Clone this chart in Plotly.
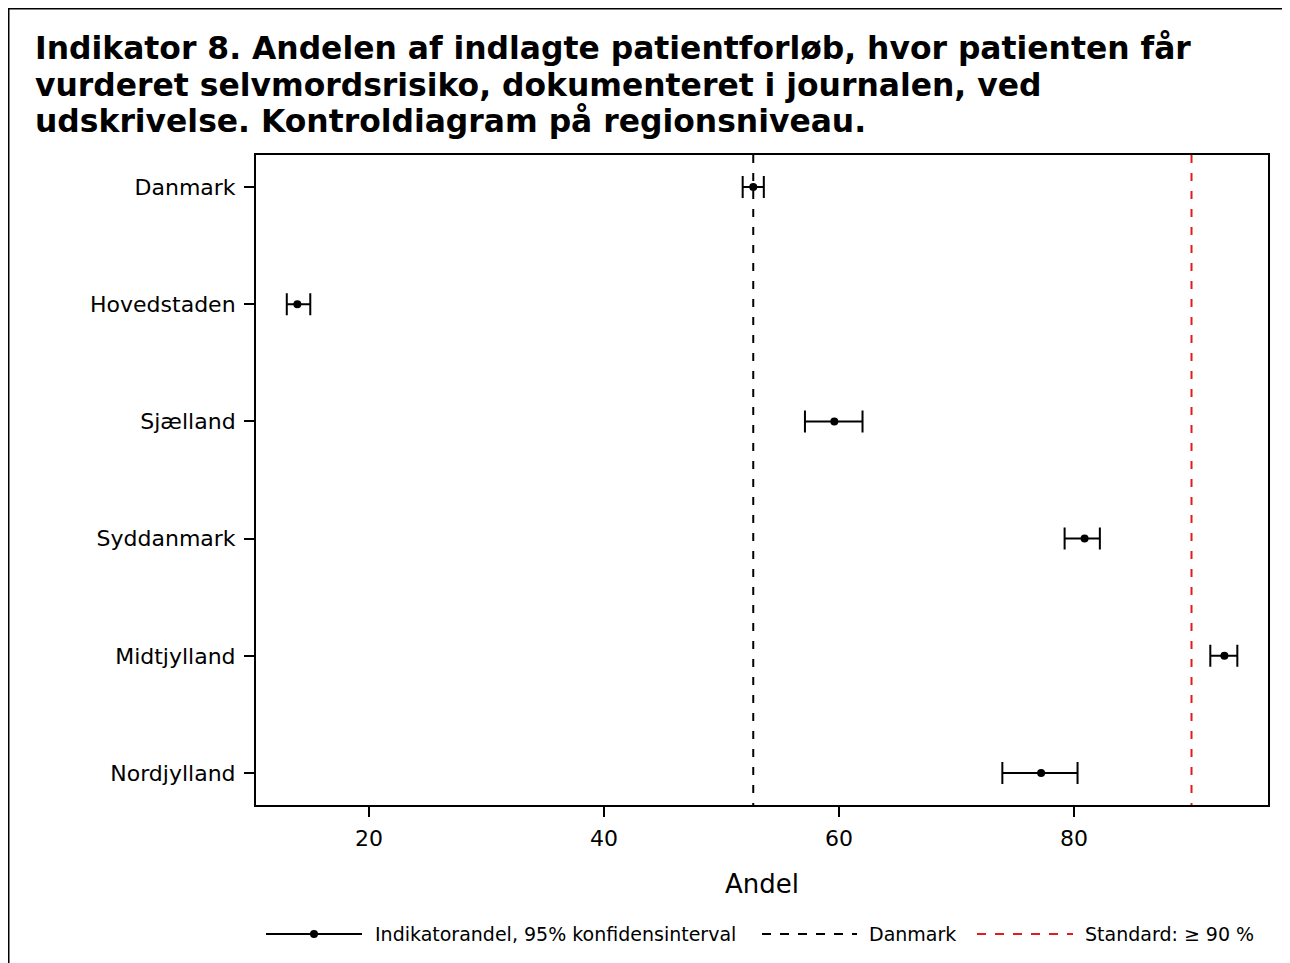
import plotly.graph_objects as go

regions = ["Danmark", "Hovedstaden", "Sjælland", "Syddanmark", "Midtjylland", "Nordjylland"]
andel = [52.7, 13.9, 59.6, 80.9, 92.8, 77.2]
ci_low = [51.8, 13.0, 57.1, 79.2, 91.6, 73.9]
ci_high = [53.6, 15.0, 62.0, 82.2, 93.9, 80.3]
danmark_ref = 52.7
standard = 90
x_ticks = [20, 40, 60, 80]

title_lines = ["Indikator 8. Andelen af indlagte patientforløb, hvor patienten får",
               "vurderet selvmordsrisiko, dokumenteret i journalen, ved",
               "udskrivelse. Kontroldiagram på regionsniveau."]
legend_labels = ["Indikatorandel, 95% konfidensinterval", "Danmark", "Standard: \u2265 90 %"]

W, H = 1282, 955
L, R, T, B = 248, 22, 147, 158
PW, PH = W - L - R, H - T - B
FONT = "DejaVu Sans"
RED = "#e41a1c"


def px_x(p):
    return (p - L) / PW


def px_y(p):
    return (H - B - p) / PH


fig = go.Figure()
fig.add_trace(go.Scatter(
    x=andel, y=regions, mode="markers",
    marker=dict(color="black", size=8),
    error_x=dict(type="data", symmetric=False,
                 array=[h - v for h, v in zip(ci_high, andel)],
                 arrayminus=[v - l for v, l in zip(andel, ci_low)],
                 color="black", thickness=2, width=11),
    showlegend=False, hoverinfo="x+y",
))

shapes = [
    dict(type="line", xref="x", yref="paper", x0=danmark_ref, x1=danmark_ref, y0=1, y1=0,
         line=dict(color="black", width=2, dash="8px,10px"), layer="below"),
    dict(type="line", xref="x", yref="paper", x0=standard, x1=standard, y0=1, y1=0,
         line=dict(color=RED, width=2, dash="8px,10px"), layer="below"),
    # outer frame
    dict(type="line", xref="paper", yref="paper", x0=px_x(0), x1=px_x(W), y0=px_y(0.5), y1=px_y(0.5),
         line=dict(color="black", width=2)),
    dict(type="line", xref="paper", yref="paper", x0=px_x(0.5), x1=px_x(0.5), y0=px_y(0), y1=px_y(H),
         line=dict(color="black", width=2)),
    dict(type="line", xref="paper", yref="paper", x0=px_x(1280.5), x1=px_x(1280.5), y0=px_y(0), y1=px_y(H),
         line=dict(color="#999999", width=1)),
]

# manual legend
ly = px_y(926)
shapes += [
    dict(type="line", xref="paper", yref="paper", x0=px_x(258), x1=px_x(354), y0=ly, y1=ly,
         line=dict(color="black", width=2)),
    dict(type="circle", xref="paper", yref="paper", x0=px_x(302), x1=px_x(310),
         y0=ly - 4 / PH, y1=ly + 4 / PH, fillcolor="black", line=dict(color="black", width=0)),
    dict(type="line", xref="paper", yref="paper", x0=px_x(754), x1=px_x(849), y0=ly, y1=ly,
         line=dict(color="black", width=2, dash="9px,9px")),
    dict(type="line", xref="paper", yref="paper", x0=px_x(969), x1=px_x(1065), y0=ly, y1=ly,
         line=dict(color=RED, width=2, dash="9px,9px")),
]
annotations = []
for xpx, txt in zip([365, 859, 1075], legend_labels):
    annotations.append(dict(xref="paper", yref="paper", x=px_x(xpx), y=ly, text=txt,
                            showarrow=False, xanchor="left", yanchor="middle",
                            font=dict(family=FONT, size=19, color="black")))
for ypx, txt in zip([40, 76.5, 113], title_lines):
    annotations.append(dict(xref="paper", yref="paper", x=px_x(25), y=px_y(ypx), text="<b>" + txt + "</b>",
                            showarrow=False, xanchor="left", yanchor="middle",
                            font=dict(family=FONT, size=31.4, color="black")))

fig.update_layout(
    width=W, height=H,
    margin=dict(l=L, r=R, t=T, b=B, pad=0),
    paper_bgcolor="white", plot_bgcolor="white",
    font=dict(family=FONT, color="black"),
    shapes=shapes, annotations=annotations,
    showlegend=False,
)
fig.update_xaxes(range=[10.38, 96.51], tickvals=x_ticks, ticks="outside", ticklen=10, tickwidth=2,
                 tickcolor="black", showline=True, linecolor="black", linewidth=2, mirror=True,
                 showgrid=False, zeroline=False, tickfont=dict(family=FONT, size=22),
                 ticklabelstandoff=3,
                 title=dict(text="Andel", font=dict(family=FONT, size=26), standoff=24))
fig.update_yaxes(type="category", categoryorder="array", categoryarray=regions,
                 range=[5.273, -0.273], ticks="outside", ticklen=10, tickwidth=2,
                 tickcolor="black", showline=True, linecolor="black", linewidth=2, mirror=True,
                 showgrid=False, zeroline=False, tickfont=dict(family=FONT, size=22),
                 ticklabelstandoff=4)

fig.write_html("out.html")
